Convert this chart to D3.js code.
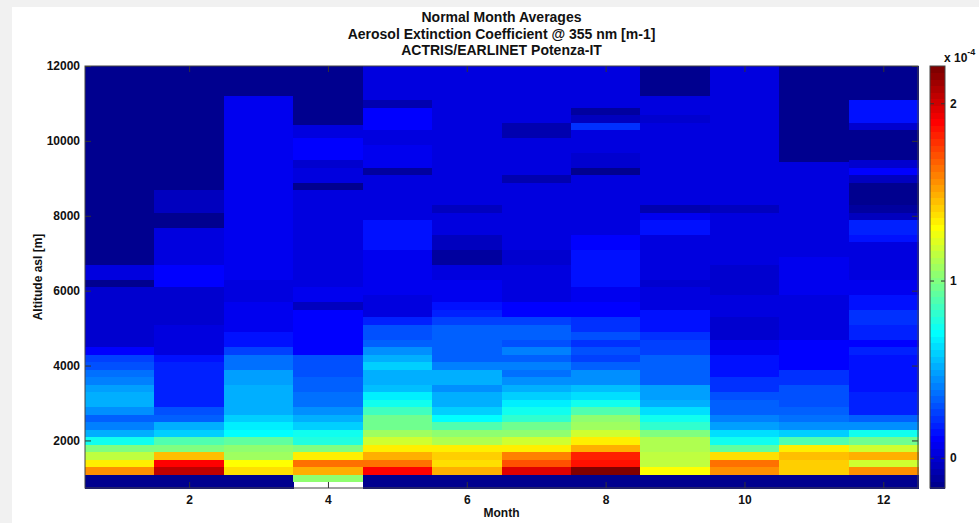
<!DOCTYPE html>
<html>
<head>
    <title>Normal Month Averages - Potenza</title>
    <script src="https://cdn.jsdelivr.net/npm/d3@7"></script>
    <style>
    body{ margin:0; background:#f1f1f1; }
    svg{ display:block; }
    text{ font-family:"Liberation Sans", Arial, sans-serif; font-weight:bold; fill:#111; }
    </style>
</head>
<body>
    <svg width="979" height="523"></svg>
    <script>
        // values are extinction in units of 1e-4 m-1, segments are [from alt, to alt, value]
        var monthTicks = [2, 4, 6, 8, 10, 12];
        var altTicks = [2000, 4000, 6000, 8000, 10000, 12000];
        var cbTicks = [0, 1, 2];
        var altRange = [730, 12000];
        var cLim = [-0.17, 2.21];

        var jan = [[730,1100,-0.17],[1100,1300,1.55],[1300,1500,1.32],[1500,1700,1.15],[1700,1900,1.0],
            [1900,2100,0.75],[2100,2300,0.5],[2300,2500,0.42],[2500,2700,0.32],[2700,2900,0.45],
            [2900,3300,0.5],[3300,3500,0.47],[3500,3700,0.42],[3700,3900,0.38],[3900,4100,0.3],
            [4100,4300,0.26],[4300,4500,0.1],[4500,6100,0.01],[6100,6300,-0.15],[6300,6700,0.03],
            [6700,12000,-0.17]];
        var feb = [[730,1100,-0.17],[1100,1300,2.05],[1300,1500,1.9],[1500,1700,1.45],[1700,1900,1.0],
            [1900,2100,0.88],[2100,2300,0.6],[2300,2500,0.5],[2500,2700,0.35],[2700,2900,0.3],
            [2900,4100,0.2],[4100,4300,0.13],[4300,5100,0.04],[5100,6100,0.0],[6100,6700,0.12],
            [6700,7700,0.04],[7700,8100,-0.15],[8100,8700,-0.03],[8700,12000,-0.17]];
        var mar = [[730,1100,-0.17],[1100,1300,1.38],[1300,1500,1.3],[1500,1700,1.08],[1700,1900,1.02],
            [1900,2100,0.93],[2100,2300,0.7],[2300,2500,0.66],[2500,2700,0.6],[2700,3300,0.53],
            [3300,3500,0.5],[3500,3900,0.47],[3900,4300,0.37],[4300,4500,0.25],[4500,4900,0.13],
            [4900,5700,0.08],[5700,6300,0.04],[6300,11200,0.06],[11200,12000,-0.17]];
        var apr = [[900,1100,1.05],[1100,1300,1.47],[1300,1500,1.62],[1500,1700,1.35],[1700,1900,1.0],
            [1900,2100,0.78],[2100,2300,0.73],[2300,2500,0.6],[2500,2700,0.5],[2700,2900,0.45],
            [2900,3300,0.37],[3300,3700,0.34],[3700,4300,0.28],[4300,5500,0.12],[5500,5700,-0.05],
            [5700,6100,0.06],[6100,6900,0.04],[6900,8700,0.02],[8700,8900,-0.17],[8900,9300,0.02],
            [9300,9500,0.0],[9500,10100,0.1],[10100,10450,0.05],[10450,12000,-0.17]];
        var may = [[730,1100,-0.17],[1100,1300,1.9],[1300,1500,1.65],[1500,1700,1.5],[1700,1900,1.32],
            [1900,2100,1.2],[2100,2300,1.08],[2300,2700,0.98],[2700,2900,0.85],[2900,3100,0.73],
            [3100,3300,0.66],[3300,3500,0.57],[3500,3900,0.5],[3900,4100,0.6],[4100,4300,0.52],
            [4300,4500,0.45],[4500,4700,0.35],[4700,5100,0.3],[5100,5300,0.2],[5300,5900,0.04],
            [5900,6700,0.09],[6700,7100,0.08],[7100,7900,0.13],[7900,8500,0.05],[8500,9100,0.03],
            [9100,9300,-0.1],[9300,9700,0.06],[9700,9900,0.09],[9900,10300,0.04],[10300,10900,0.12],
            [10900,11100,-0.08],[11100,12000,0.04]];
        var jun = [[730,1100,-0.17],[1100,1300,1.5],[1300,1500,1.36],[1500,1700,1.42],[1700,1900,1.32],
            [1900,2100,1.13],[2100,2300,1.02],[2300,2500,0.88],[2500,2700,0.7],[2700,2900,0.6],
            [2900,3300,0.5],[3300,3500,0.45],[3500,3900,0.5],[3900,4100,0.42],[4100,5100,0.32],
            [5100,5300,0.26],[5300,5500,0.2],[5500,5700,0.13],[5700,6300,0.08],[6300,6700,0.04],
            [6700,7100,-0.1],[7100,7500,-0.05],[7500,8100,0.04],[8100,8300,-0.05],[8300,12000,0.04]];
        var jul = [[730,1100,-0.17],[1100,1300,1.95],[1300,1500,1.7],[1500,1700,1.6],[1700,1900,1.32],
            [1900,2100,1.17],[2100,2300,1.05],[2300,2500,0.95],[2500,2700,0.83],[2700,2900,0.73],
            [2900,3100,0.68],[3100,3300,0.6],[3300,3500,0.5],[3500,3700,0.45],[3700,3900,0.38],
            [3900,4100,0.42],[4100,4300,0.35],[4300,4500,0.42],[4500,4700,0.3],[4700,5100,0.35],
            [5100,5300,0.26],[5300,5700,0.1],[5700,6700,0.04],[6700,7100,0.0],[7100,8900,0.03],
            [8900,9100,-0.08],[9100,9700,0.04],[9700,10100,0.02],[10100,10500,-0.08],[10500,12000,0.04]];
        var aug = [[730,1100,-0.17],[1100,1300,2.2],[1300,1500,1.85],[1500,1700,1.82],[1700,1900,1.47],
            [1900,2100,1.32],[2100,2300,1.17],[2300,2500,1.08],[2500,2700,1.02],[2700,2900,0.9],
            [2900,3100,0.73],[3100,3300,0.63],[3300,3500,0.57],[3500,3900,0.45],[3900,4100,0.35],
            [4100,4300,0.26],[4300,4500,0.3],[4500,4700,0.22],[4700,4900,0.28],[4900,5300,0.22],
            [5300,5700,0.1],[5700,6100,0.06],[6100,7100,0.13],[7100,7500,0.1],[7500,8100,0.05],
            [8100,8300,0.02],[8300,8900,0.04],[8900,9100,0.05],[9100,9300,-0.15],[9300,9700,0.0],
            [9700,10300,0.04],[10300,10500,0.22],[10500,10700,-0.05],[10700,10900,-0.1],[10900,12000,0.04]];
        var sep = [[730,1100,-0.17],[1100,1300,1.3],[1300,1700,1.15],[1700,1900,1.12],[1900,2100,1.1],
            [2100,2300,1.0],[2300,2500,0.82],[2500,2700,0.73],[2700,2900,0.63],[2900,3100,0.53],
            [3100,3500,0.47],[3500,4300,0.32],[4300,4700,0.26],[4700,4900,0.22],[4900,5500,0.13],
            [5500,6100,0.04],[6100,6300,0.0],[6300,7000,0.02],[7000,7500,0.04],[7500,7900,0.13],
            [7900,8100,0.06],[8100,8300,-0.08],[8300,10500,0.04],[10500,10700,0.0],[10700,11200,0.04],
            [11200,12000,-0.17]];
        var oct = [[730,1100,-0.17],[1100,1300,1.55],[1300,1500,1.65],[1500,1700,1.38],[1700,1900,0.93],
            [1900,2100,0.73],[2100,2300,0.63],[2300,2500,0.47],[2500,2700,0.42],[2700,2900,0.35],
            [2900,3100,0.32],[3100,3300,0.3],[3300,3700,0.22],[3700,4300,0.13],[4300,4700,0.06],
            [4700,5300,0.0],[5300,5900,0.03],[5900,6700,0.0],[6700,8100,0.05],[8100,8300,-0.05],
            [8300,12000,0.05]];
        var nov = [[730,1100,-0.17],[1100,1500,1.42],[1500,1700,1.44],[1700,1900,1.32],[1900,2100,0.88],
            [2100,2300,0.6],[2300,2500,0.45],[2500,2700,0.37],[2700,2900,0.32],[2900,3500,0.28],
            [3500,3900,0.22],[3900,4700,0.1],[4700,5100,0.05],[5100,5900,0.03],[5900,6900,0.06],
            [6900,8700,0.04],[8700,9450,0.05],[9450,12000,-0.17]];
        var dec = [[730,1100,-0.17],[1100,1300,1.55],[1300,1500,1.2],[1500,1700,1.47],[1700,1900,1.17],
            [1900,2100,0.98],[2100,2300,0.73],[2300,2500,0.45],[2500,2700,0.32],[2700,3300,0.2],
            [3300,4300,0.13],[4300,4500,0.18],[4500,4700,0.1],[4700,5100,0.2],[5100,5500,0.22],
            [5500,5900,0.13],[5900,6300,0.08],[6300,6700,0.04],[6700,7300,0.02],[7300,7500,0.13],
            [7500,7900,0.18],[7900,8100,-0.05],[8100,8300,-0.12],[8300,8900,-0.17],[8900,9100,-0.05],
            [9100,9300,0.1],[9300,9500,0.0],[9500,10300,-0.15],[10300,10500,-0.02],[10500,11100,0.13],
            [11100,12000,-0.17]];

        var profiles = [jan, feb, mar, apr, may, jun, jul, aug, sep, oct, nov, dec];

        var svg = d3.select("svg");
        var plot = {left:85, right:918, top:66, bottom:488};
        var cb = {left:930, right:945};

        // page card
        svg.append("rect").attr("width", 979).attr("height", 523).attr("fill", "#f1f1f1");
        svg.append("rect").attr("x", 12).attr("y", 7).attr("width", 967).attr("height", 516).attr("fill", "#fff");

        var x = d3.scaleLinear().domain([0.5, 12.5]).range([plot.left, plot.right]);
        var y = d3.scaleLinear().domain(altRange).range([plot.bottom, plot.top]);
        var cy = d3.scaleLinear().domain(cLim).range([plot.bottom, plot.top]);

        // MATLAB jet(64)
        var level = d3.scaleQuantize().domain(cLim).range(d3.range(1, 65));
        function clamp(v){ return Math.max(0, Math.min(1, v)); }
        function jetK(k){
            var t = k / 64;
            return d3.rgb(255 * clamp(1.5 - Math.abs(4*t - 3)),
                          255 * clamp(1.5 - Math.abs(4*t - 2)),
                          255 * clamp(1.5 - Math.abs(4*t - 1))) + "";
        }
        function jet(v){ return jetK(level(v)); }

        var cellW = x(1.5) - x(0.5);
        var cols = svg.append("g").attr("shape-rendering", "crispEdges")
            .selectAll("g.col")
            .data(profiles)
            .enter()
            .append("g")
            .attr("class", "col");

        cols.selectAll("rect")
            .data(function(d, i){ return d.map(function(s){ return {m: i + 1, s: s}; }); })
            .enter()
            .append("rect")
            .attr("x", function(d){ return x(d.m - 0.5); })
            .attr("width", cellW + 0.5)
            .attr("y", function(d){ return y(d.s[1]); })
            .attr("height", function(d){ return y(d.s[0]) - y(d.s[1]) + 0.5; })
            .attr("fill", function(d){ return jet(d.s[2]); });

        // axes, ticks drawn inward like matlab
        var tk = 6;
        var fmt = d3.format("d");
        var gx = svg.append("g").attr("transform", "translate(0," + plot.bottom + ")")
            .call(d3.axisBottom(x).tickValues(monthTicks).tickFormat(fmt).tickSizeInner(-tk).tickSizeOuter(0).tickPadding(7));
        var gxt = svg.append("g").attr("transform", "translate(0," + plot.top + ")")
            .call(d3.axisTop(x).tickValues(monthTicks).tickSizeInner(-tk).tickSizeOuter(0).tickFormat(""));
        var gy = svg.append("g").attr("transform", "translate(" + plot.left + ",0)")
            .call(d3.axisLeft(y).tickValues(altTicks).tickFormat(fmt).tickSizeInner(-tk).tickSizeOuter(0).tickPadding(5));
        var gyr = svg.append("g").attr("transform", "translate(" + plot.right + ",0)")
            .call(d3.axisRight(y).tickValues(altTicks).tickSizeInner(-tk).tickSizeOuter(0).tickFormat(""));
        [gx, gxt, gy, gyr].forEach(function(g){
            g.select(".domain").remove();
            g.selectAll("line").attr("stroke", "#333");
            g.selectAll("text").attr("font-size", 12).attr("font-family", null).attr("fill", "#111");
        });

        svg.append("rect")
            .attr("x", plot.left).attr("y", plot.top)
            .attr("width", plot.right - plot.left).attr("height", plot.bottom - plot.top)
            .attr("fill", "none").attr("stroke", "#444").attr("stroke-width", 1);

        // colorbar
        var cbStep = (cLim[1] - cLim[0]) / 64;
        svg.append("g").attr("shape-rendering", "crispEdges")
            .selectAll("rect")
            .data(d3.range(1, 65))
            .enter()
            .append("rect")
            .attr("x", cb.left)
            .attr("width", cb.right - cb.left)
            .attr("y", function(k){ return cy(cLim[0] + k * cbStep); })
            .attr("height", function(k){ return cy(cLim[0] + (k - 1) * cbStep) - cy(cLim[0] + k * cbStep) + 0.5; })
            .attr("fill", function(k){ return jetK(k); });

        var gc = svg.append("g").attr("transform", "translate(" + cb.right + ",0)")
            .call(d3.axisRight(cy).tickValues(cbTicks).tickFormat(fmt).tickSizeInner(-4).tickSizeOuter(0).tickPadding(5));
        var gcl = svg.append("g").attr("transform", "translate(" + cb.left + ",0)")
            .call(d3.axisLeft(cy).tickValues(cbTicks).tickSizeInner(-4).tickSizeOuter(0).tickFormat(""));
        [gc, gcl].forEach(function(g){
            g.select(".domain").remove();
            g.selectAll("line").attr("stroke", "#333");
            g.selectAll("text").attr("font-size", 12).attr("font-family", null).attr("fill", "#111");
        });
        svg.append("rect")
            .attr("x", cb.left).attr("y", plot.top)
            .attr("width", cb.right - cb.left).attr("height", plot.bottom - plot.top)
            .attr("fill", "none").attr("stroke", "#444");

        var mult = svg.append("text").attr("x", 944).attr("y", 62).attr("font-size", 12);
        mult.append("tspan").text("x 10");
        mult.append("tspan").attr("dy", -7).attr("font-size", 9).text("-4");

        // titles
        var titles = ["Normal Month Averages", "Aerosol Extinction Coefficient @ 355 nm [m-1]", "ACTRIS/EARLINET Potenza-IT"];
        svg.selectAll("text.title")
            .data(titles)
            .enter()
            .append("text")
            .attr("class", "title")
            .attr("x", (plot.left + plot.right) / 2)
            .attr("y", function(d, i){ return 22 + i * 16.5; })
            .attr("text-anchor", "middle")
            .attr("font-size", 14)
            .text(function(d){ return d; });

        svg.append("text")
            .attr("x", (plot.left + plot.right) / 2)
            .attr("y", 517)
            .attr("text-anchor", "middle")
            .attr("font-size", 12)
            .text("Month");

        svg.append("text")
            .attr("transform", "translate(42," + ((plot.top + plot.bottom) / 2) + ") rotate(-90)")
            .attr("text-anchor", "middle")
            .attr("font-size", 12)
            .text("Altitude asl [m]");
    </script>
</body>
</html>
